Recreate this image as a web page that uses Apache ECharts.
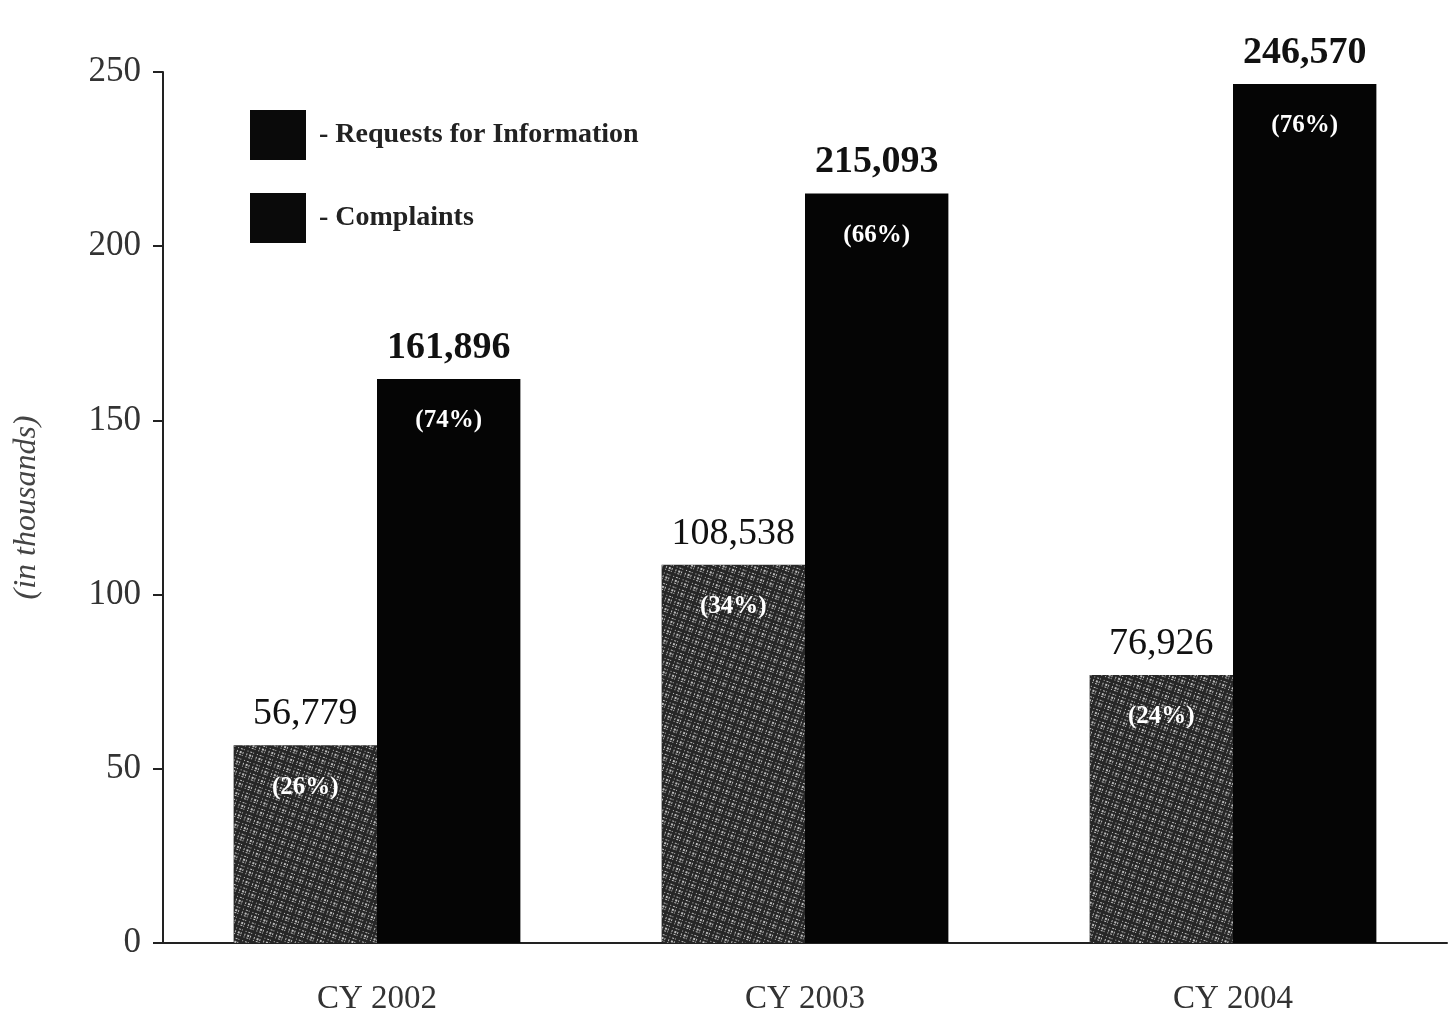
<!DOCTYPE html>
<html>
<head>
<meta charset="utf-8">
<script src="https://cdn.jsdelivr.net/npm/echarts@6/dist/echarts.min.js"></script>
<style>
html,body{margin:0;padding:0;background:#fff;}
#chart{width:1450px;height:1024px;}
</style>
</head>
<body>
<div id="chart"></div>
<script>
const categories = ['CY 2002', 'CY 2003', 'CY 2004'];
const complaints = [56779, 108538, 76926];
const requests = [161896, 215093, 246570];
const complaintsPct = ['26%', '34%', '24%'];
const requestsPct = ['74%', '66%', '76%'];
const seriesNames = ['Complaints', 'Requests for Information'];
const yTicks = [0, 50, 100, 150, 200, 250];

const FONT = '"Liberation Serif", "Times New Roman", serif';
const fmt = v => v.toLocaleString('en-US');

function makeLabel(pcts, bold) {
  return {
    show: true,
    position: 'insideTop',
    distance: 0,
    offset: [0, -62],
    fontFamily: FONT,
    formatter: p => '{v|' + fmt(p.value) + '}\n{p|(' + pcts[p.dataIndex] + ')}',
    rich: {
      v: { fontFamily: FONT, fontSize: 38, fontWeight: bold ? 'bold' : 'normal', color: '#111', lineHeight: 62, align: 'center' },
      p: { fontFamily: FONT, fontSize: 25, fontWeight: 'bold', color: '#fff', lineHeight: 84, align: 'center' }
    }
  };
}

const chart = echarts.init(document.getElementById('chart'), null, { renderer: 'canvas' });
chart.setOption({
  backgroundColor: '#ffffff',
  animation: false,
  grid: { left: 163, right: 3, top: 72, bottom: 81, containLabel: false },
  legend: {
    orient: 'vertical',
    left: 245,
    top: 105,
    icon: 'rect',
    itemWidth: 56,
    itemHeight: 50,
    itemGap: 33,
    data: [
      { name: seriesNames[1], icon: 'rect', itemStyle: { color: '#0a0a0a', decal: 'none' } },
      { name: seriesNames[0], icon: 'rect', itemStyle: { color: '#0a0a0a', decal: 'none' } }
    ],
    formatter: n => '- ' + n,
    textStyle: { fontFamily: FONT, fontSize: 28, fontWeight: 'bold', color: '#222', padding: [0, 0, 0, 8] }
  },
  xAxis: {
    type: 'category',
    data: categories,
    axisLine: { show: true, lineStyle: { color: '#222', width: 2 } },
    axisTick: { show: false },
    axisLabel: { fontFamily: FONT, fontSize: 33, color: '#333', margin: 40 }
  },
  yAxis: {
    type: 'value',
    min: 0,
    max: 250000,
    interval: 50000,
    name: '(in thousands)',
    nameLocation: 'middle',
    nameGap: 120,
    nameTextStyle: { fontFamily: FONT, fontSize: 32, fontStyle: 'italic', color: '#444' },
    axisLine: { show: true, lineStyle: { color: '#222', width: 2 } },
    axisTick: { show: true, length: 10, lineStyle: { color: '#222', width: 2 } },
    splitLine: { show: false },
    axisLabel: {
      fontFamily: FONT, fontSize: 35, color: '#333', margin: 22,
      formatter: v => String(yTicks[Math.round(v / 50000)])
    }
  },
  series: [
    {
      name: seriesNames[0],
      type: 'bar',
      data: complaints,
      barGap: '0%',
      barCategoryGap: '33%',
      itemStyle: {
        color: '#262626',
        decal: {
          symbol: 'rect',
          symbolSize: 1,
          color: 'rgba(215,215,215,0.85)',
          dashArrayX: [[1, 2, 2, 1, 1, 3]],
          dashArrayY: [1, 2, 2, 1, 1, 3],
          rotation: 0.35
        }
      },
      label: makeLabel(complaintsPct, false)
    },
    {
      name: seriesNames[1],
      type: 'bar',
      data: requests,
      barGap: '0%',
      barCategoryGap: '33%',
      itemStyle: { color: '#050505' },
      label: makeLabel(requestsPct, true)
    }
  ]
});
</script>
</body>
</html>
